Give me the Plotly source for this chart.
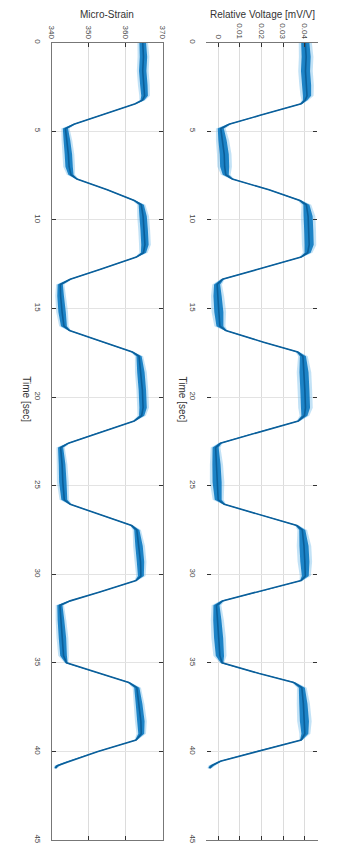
import plotly.graph_objects as go

# ---- data ----
time_s = [0.0, 0.8, 1.6, 2.4, 3.0, 3.25, 3.45, 4.1, 4.6, 4.85,
          5.5, 6.3, 7.0, 7.45, 7.7, 8.3, 8.9, 9.15,
          9.8, 10.6, 11.4, 11.85, 12.1, 12.8, 13.35, 13.65,
          14.3, 15.2, 16.0, 16.25, 16.9, 17.45, 17.7,
          18.6, 19.6, 20.6, 21.05, 21.35, 22.1, 22.6, 22.85,
          23.8, 24.8, 25.8, 26.05, 26.7, 27.25, 27.5,
          28.4, 29.3, 30.1, 30.35, 31.0, 31.5, 31.75,
          32.6, 33.6, 34.6, 35.0, 35.6, 36.1, 36.4,
          37.3, 38.3, 39.0, 39.35, 40.0, 40.55, 40.8, 40.95]

micro_strain = [364.6, 364.8, 364.6, 364.9, 365.1, 364.5, 362.6, 353.3, 346.0, 343.7,
                344.1, 344.5, 344.7, 345.2, 346.8, 355.0, 362.3, 364.2,
                364.7, 365.0, 365.2, 364.8, 362.9, 353.0, 345.0, 342.3,
                342.4, 342.8, 343.3, 344.8, 354.0, 361.8, 363.6,
                364.1, 364.5, 364.7, 364.3, 362.3, 351.5, 344.5, 342.4,
                342.8, 343.0, 343.4, 345.0, 354.0, 361.6, 363.0,
                363.6, 364.0, 364.1, 362.8, 353.0, 345.0, 342.2,
                342.5, 342.9, 343.2, 344.0, 353.0, 360.8, 363.0,
                363.6, 364.1, 364.2, 362.8, 352.5, 344.5, 341.5, 341.0]

strain_noise = [0.9, 1.0, 1.0, 1.0, 0.9, 0.5, 0.25, 0.25, 0.3, 0.7,
                0.9, 1.0, 1.0, 0.7, 0.25, 0.25, 0.3, 0.7,
                1.0, 1.0, 1.0, 0.7, 0.25, 0.25, 0.3, 0.7,
                0.9, 1.0, 0.8, 0.25, 0.25, 0.3, 0.7,
                1.0, 1.0, 1.0, 0.7, 0.25, 0.25, 0.3, 0.7,
                0.9, 1.0, 0.8, 0.25, 0.25, 0.3, 0.7,
                1.0, 1.0, 0.8, 0.25, 0.25, 0.3, 0.7,
                0.9, 1.0, 0.9, 0.3, 0.25, 0.3, 0.7,
                0.9, 1.0, 0.8, 0.25, 0.25, 0.3, 0.5, 0.3]

relative_voltage = [0.0403, 0.0407, 0.0404, 0.0409, 0.0411, 0.0402, 0.0384, 0.0194, 0.0050, 0.0012,
                    0.0020, 0.0028, 0.0030, 0.0035, 0.0065, 0.0235, 0.0378, 0.0408,
                    0.0416, 0.0419, 0.0421, 0.0414, 0.0384, 0.0180, 0.0020, -0.0005,
                    -0.0003, 0.0003, 0.0008, 0.0035, 0.0210, 0.0368, 0.0392,
                    0.0397, 0.0401, 0.0404, 0.0399, 0.0371, 0.0150, 0.0010, -0.0012,
                    -0.0008, -0.0005, 0.0000, 0.0028, 0.0210, 0.0364, 0.0389,
                    0.0397, 0.0401, 0.0403, 0.0384, 0.0185, 0.0020, -0.0008,
                    -0.0004, 0.0002, 0.0008, 0.0018, 0.0190, 0.0349, 0.0387,
                    0.0394, 0.0399, 0.0401, 0.0384, 0.0175, 0.0010, -0.0030, -0.0040]

voltage_noise = [0.0019, 0.0021, 0.0021, 0.0021, 0.0019, 0.0010, 0.0005, 0.0005, 0.0006, 0.0014,
                 0.0019, 0.0021, 0.0021, 0.0014, 0.0005, 0.0005, 0.0006, 0.0014,
                 0.0021, 0.0021, 0.0021, 0.0014, 0.0005, 0.0005, 0.0006, 0.0014,
                 0.0019, 0.0021, 0.0016, 0.0005, 0.0005, 0.0006, 0.0014,
                 0.0021, 0.0021, 0.0021, 0.0014, 0.0005, 0.0005, 0.0006, 0.0014,
                 0.0019, 0.0021, 0.0016, 0.0005, 0.0005, 0.0006, 0.0014,
                 0.0021, 0.0021, 0.0016, 0.0005, 0.0005, 0.0006, 0.0014,
                 0.0019, 0.0021, 0.0019, 0.0006, 0.0005, 0.0006, 0.0014,
                 0.0019, 0.0021, 0.0016, 0.0005, 0.0005, 0.0006, 0.0010, 0.0006]

time_ticks = [0, 5, 10, 15, 20, 25, 30, 35, 40, 45]
strain_ticks = [340, 350, 360, 370]
voltage_ticks = [0, 0.01, 0.02, 0.03, 0.04]
voltage_tick_text = ["0", "0.01", "0.02", "0.03", "0.04"]

BLUE = "#0072BD"
FONT = "Liberation Sans, Arial, sans-serif"

fig = go.Figure()


def add_signal(values, noise, xa, ya, halo_scale):
    lo = [v - n for v, n in zip(values, noise)]
    hi = [v + n for v, n in zip(values, noise)]
    lo2 = [v - n * halo_scale for v, n in zip(values, noise)]
    hi2 = [v + n * halo_scale for v, n in zip(values, noise)]
    tt = time_s + time_s[::-1]
    fig.add_trace(go.Scatter(x=lo2 + hi2[::-1], y=tt, fill="toself", mode="none",
                             fillcolor="rgba(120,190,235,0.45)", xaxis=xa, yaxis=ya,
                             hoverinfo="skip"))
    fig.add_trace(go.Scatter(x=lo + hi[::-1], y=tt, fill="toself", mode="none",
                             fillcolor="rgba(0,114,189,0.85)", xaxis=xa, yaxis=ya,
                             hoverinfo="skip"))
    fig.add_trace(go.Scatter(x=values, y=time_s, mode="lines",
                             line=dict(color="#0b5f9a", width=1.6), xaxis=xa, yaxis=ya))


add_signal(micro_strain, strain_noise, "x", "y", 1.6)
add_signal(relative_voltage, voltage_noise, "x2", "y2", 1.6)

y_dom = [1 - 844 / 854, 1 - 40 / 854]
tickfont = dict(family=FONT, size=8, color="#444")

common_y = dict(range=[45, 0], tickvals=time_ticks, tickangle=90, ticks="inside",
                ticklen=4, tickcolor="#333", showgrid=True, gridcolor="#e3e3e3",
                gridwidth=1, zeroline=False, tickfont=tickfont, domain=y_dom,
                ticklabelstandoff=6)

fig.update_layout(
    width=340, height=854,
    margin=dict(l=0, r=0, t=0, b=0),
    paper_bgcolor="white", plot_bgcolor="white",
    showlegend=False,
    xaxis=dict(domain=[48 / 340, 162 / 340], range=[340, 370], tickvals=strain_ticks,
               side="top", tickangle=90, ticks="inside", ticklen=4, tickcolor="#333",
               showline=True, linecolor="#777", linewidth=1, mirror="ticks",
               showgrid=True, gridcolor="#dcdcdc", zeroline=False, tickfont=tickfont,
               anchor="y"),
    yaxis=dict(**common_y, anchor="x", showline=True, linecolor="#777", linewidth=1,
               mirror="ticks"),
    xaxis2=dict(domain=[207 / 340, 320 / 340], range=[-0.0054, 0.0455],
                tickvals=voltage_ticks, ticktext=voltage_tick_text,
                side="top", tickangle=90, ticks="inside", ticklen=4, tickcolor="#333",
                showline=True, linecolor="#777", linewidth=1, mirror="ticks",
                showgrid=True, gridcolor="#dcdcdc", zeroline=False, tickfont=tickfont,
                anchor="y2"),
    yaxis2=dict(**common_y, anchor="x2", showline=True, linecolor="rgba(0,0,0,0)",
                mirror="ticks"),
)

title_font = dict(family=FONT, size=10, color="#333")
common_ann = dict(xref="paper", yref="paper", showarrow=False, font=title_font,
                  xanchor="center", yanchor="middle")
fig.add_annotation(text="Micro-Strain", x=105 / 340, y=1 - 12 / 854, **common_ann)
fig.add_annotation(text="Relative Voltage [mV/V]", x=264 / 340, y=1 - 12 / 854,
                   **common_ann)
fig.add_annotation(text="Time [sec]", x=22 / 340, y=1 - 400 / 854, textangle=90,
                   **common_ann)
fig.add_annotation(text="Time [sec]", x=182 / 340, y=1 - 400 / 854, textangle=90,
                   **common_ann)

fig.write_html("out.html")
